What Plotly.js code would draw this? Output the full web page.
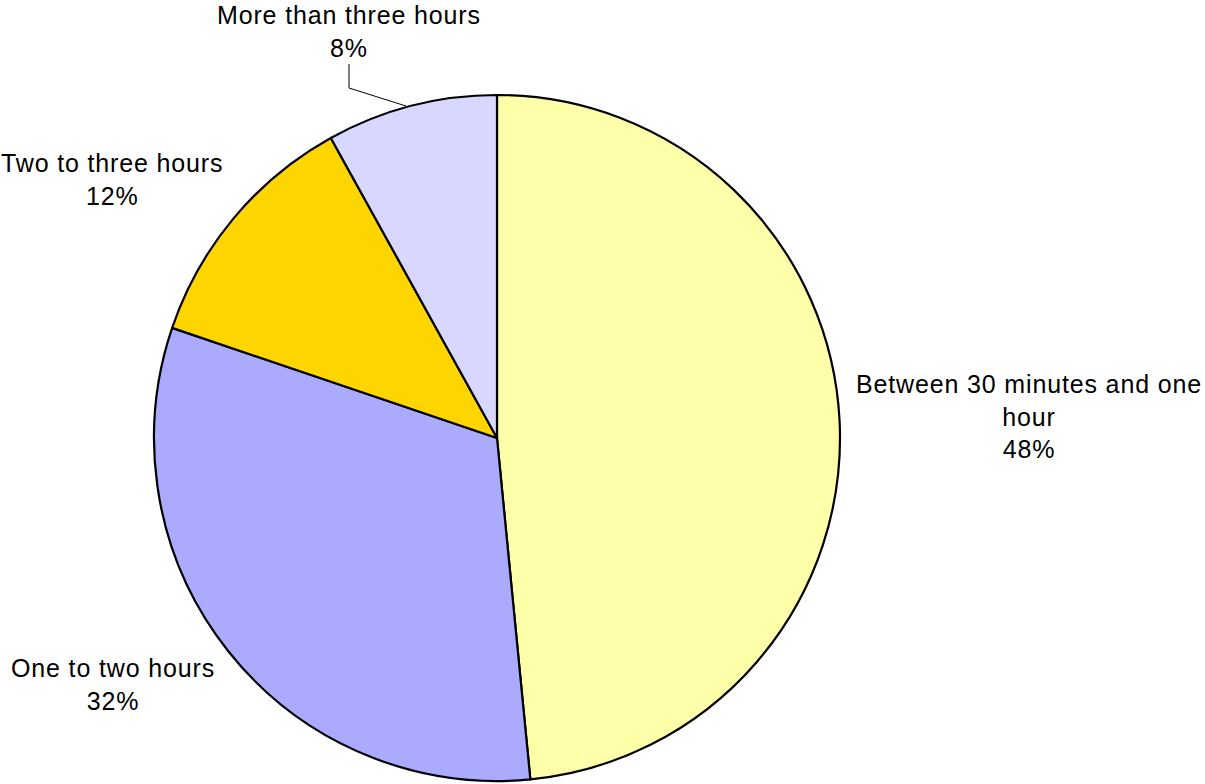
<!DOCTYPE html>
<html>
<head>
<meta charset="utf-8">
<script src="https://cdn.plot.ly/plotly-3.0.1.min.js"></script>
<style>
html,body{margin:0;padding:0;background:#fff;}
#chart{width:1205px;height:784px;}
.annotation-text{letter-spacing:0.85px;}
</style>
</head>
<body>
<div id="chart"></div>
<script>
const labels = ["Between 30 minutes and one hour", "One to two hours", "Two to three hours", "More than three hours"];
const values = [48.45, 31.75, 11.75, 8.05];
const colors = ["#FFFFAA", "#AAAAFF", "#FFD500", "#D7D7FF"];

const W = 1205, H = 784;
const px = x => x / W;
const py = y => 1 - y / H;

function wrap(s, max) {
  const words = s.split(" ");
  const lines = [];
  let cur = "";
  words.forEach(w => {
    if (cur && (cur + " " + w).length > max) { lines.push(cur); cur = w; }
    else cur = cur ? cur + " " + w : w;
  });
  if (cur) lines.push(cur);
  return lines.join("<br>");
}

const total = values.reduce((a, b) => a + b, 0);
const pct = values.map(v => Math.round(v / total * 100) + "%");

// label anchor positions (pixels)
const labelPos = [[1029, 416], [113, 684], [112, 179], [349, 31]];

const annotations = labels.map((l, i) => ({
  x: px(labelPos[i][0]), y: py(labelPos[i][1]), xref: "paper", yref: "paper",
  xanchor: "center", yanchor: "middle", showarrow: false, align: "center",
  text: wrap(l, 26) + "<br>" + pct[i],
  font: {family: "Liberation Sans, Arial, sans-serif", size: 25, color: "#000"}
}));

const data = [{
  type: "pie",
  labels: labels,
  values: values,
  sort: false,
  direction: "clockwise",
  rotation: 0,
  textinfo: "none",
  hoverinfo: "label+percent",
  marker: {colors: colors, line: {color: "#000", width: 2.2}},
  domain: {x: [px(153), px(841)], y: [py(781), py(95)]},
  showlegend: false
}];

const layout = {
  width: W, height: H,
  margin: {l: 0, r: 0, t: 0, b: 0},
  paper_bgcolor: "#fff",
  plot_bgcolor: "#fff",
  showlegend: false,
  annotations: annotations,
  shapes: [{
    type: "path", xref: "paper", yref: "paper",
    path: "M " + px(349) + " " + py(64) + " L " + px(349) + " " + py(88) + " L " + px(406) + " " + py(106),
    line: {color: "#000", width: 1}
  }]
};

Plotly.newPlot("chart", data, layout, {displayModeBar: false, staticPlot: true});
</script>
</body>
</html>
